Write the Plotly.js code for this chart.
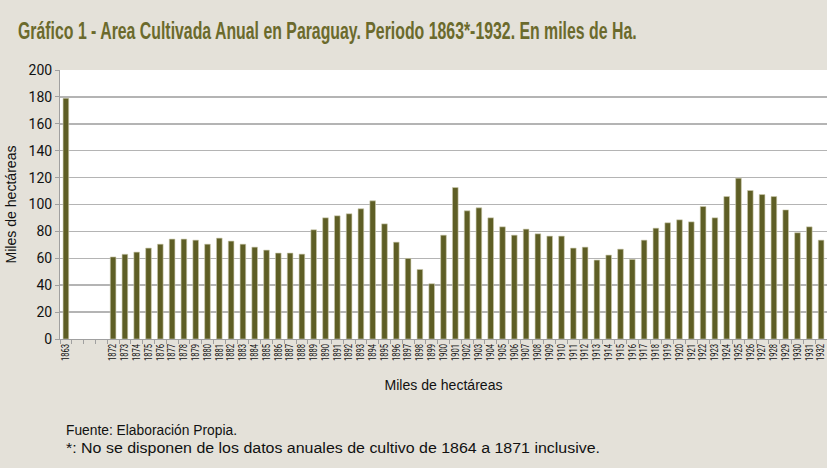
<!DOCTYPE html>
<html>
<head>
<meta charset="utf-8">
<script src="https://cdn.plot.ly/plotly-3.0.1.min.js"></script>
<style>
html,body{margin:0;padding:0;background:#e4e1d9;}
#chart{width:827px;height:468px;}
</style>
</head>
<body>
<div id="chart"></div>
<script>
// Categories: 1863, three unlabeled gap slots, then 1872..1932
var years = ["1863", " ", "  ", "   ",
  "1872","1873","1874","1875","1876","1877","1878","1879","1880","1881",
  "1882","1883","1884","1885","1886","1887","1888","1889","1890","1891",
  "1892","1893","1894","1895","1896","1897","1898","1899","1900","1901",
  "1902","1903","1904","1905","1906","1907","1908","1909","1910","1911",
  "1912","1913","1914","1915","1916","1917","1918","1919","1920","1921",
  "1922","1923","1924","1925","1926","1927","1928","1929","1930","1931","1932"];

var area = [179, null, null, null,
  61, 63, 64.6, 67.6, 70.5, 74.3, 74.3, 73.5, 70.5, 75,
  72.8, 70.5, 68.3, 66.1, 63.9, 63.9, 63.1, 81.2, 90.1, 91.6,
  93.1, 96.8, 102.7, 85.6, 72, 59.9, 51.7, 41.1, 77.2, 112.6,
  95.3, 97.5, 90.1, 83.4, 77.2, 81.7, 78.2, 76.5, 76.5, 67.6,
  68.3, 58.7, 62.4, 66.8, 59.2, 73.5, 82.4, 86.4, 88.6, 87.1,
  98.5, 90.1, 105.9, 119.6, 110.4, 107.4, 105.9, 96, 79, 83.4, 73.5];

var yTicks = [0, 20, 40, 60, 80, 100, 120, 140, 160, 180, 200];

var titleText = "Gráfico 1 - Area Cultivada Anual en Paraguay. Periodo 1863*-1932. En miles de Ha.";
var axisTitle = "Miles de hectáreas";
var note1 = "Fuente: Elaboración Propia.";
var note2 = "*: No se disponen de los datos anuales de cultivo de 1864 a 1871 inclusive.";

var sans = "'Liberation Sans', Arial, sans-serif";
var rob = "Roboto, 'Liberation Sans', sans-serif";

var trace = {
  type: "bar",
  x: years,
  y: area,
  marker: {color: "#5e5e25", line: {color: "#cfcdb0", width: 0.6}},
  width: 0.48,
  hoverinfo: "x+y"
};

var layout = {
  width: 827, height: 468,
  paper_bgcolor: "#e4e1d9",
  plot_bgcolor: "#ffffff",
  margin: {l: 60, r: 0, t: 70, b: 129, pad: 0},
  showlegend: false,
  title: {
    text: titleText,
    x: 0.022, xanchor: "left",
    y: 0.935, yanchor: "middle",
    font: {family: sans, size: 24, weight: "bold", color: "#6b6a2c"}
  },
  xaxis: {
    type: "category",
    categoryorder: "array",
    categoryarray: years,
    tickmode: "linear",
    dtick: 1,
    tickangle: -90,
    ticks: "outside",
    tickson: "boundaries",
    ticklen: 4,
    tickcolor: "#a0a0a0",
    tickfont: {family: rob, size: 10, color: "#111"},
    showline: true,
    linecolor: "#a0a0a0",
    showgrid: false,
    fixedrange: true,
    title: {text: axisTitle, standoff: 14, font: {family: sans, size: 14, color: "#111"}}
  },
  yaxis: {
    range: [0, 200],
    tickvals: yTicks,
    ticks: "outside",
    ticklen: 4,
    tickcolor: "#a0a0a0",
    tickfont: {family: rob, size: 14, color: "#111"},
    showline: true,
    linecolor: "#a0a0a0",
    gridcolor: "#b4b4b4",
    gridwidth: 1.5,
    zeroline: false,
    title: {text: axisTitle, standoff: 8, font: {family: sans, size: 14, color: "#111"}}
  },
  annotations: [
    {text: note1, xref: "paper", yref: "paper", x: 0, y: -0.338, xanchor: "left", yanchor: "middle",
     xshift: 6, showarrow: false, font: {family: sans, size: 14, color: "#111"}},
    {text: note2, xref: "paper", yref: "paper", x: 0, y: -0.405, xanchor: "left", yanchor: "middle",
     xshift: 6, showarrow: false, font: {family: sans, size: 14, color: "#111"}}
  ]
};

function squeeze(el, len) {
  if (!el) return;
  el.setAttribute("textLength", len);
  el.setAttribute("lengthAdjust", "spacingAndGlyphs");
}

function squeezeLeft(el, len, left) {
  if (!el) return;
  squeeze(el, len);
  var r = el.getBoundingClientRect();
  var dx = left - r.left;
  var old = el.getAttribute("transform") || "";
  el.setAttribute("transform", "translate(" + dx + ",0) " + old);
}

// Horizontally compress a text with a transform so its box is exact
function scaleLeft(el, len, left) {
  if (!el) return;
  var r = el.getBoundingClientRect();
  var sx = len / r.width;
  var old = el.getAttribute("transform") || "";
  el.setAttribute("transform", "translate(" + left + ",0) scale(" + sx + ",1) translate(" + (-r.left) + ",0) " + old);
}

Plotly.newPlot("chart", [trace], layout, {displayModeBar: false, staticPlot: true}).then(function (gd) {
  scaleLeft(gd.querySelector(".gtitle"), 619, 18);
  var ann = gd.querySelectorAll(".annotation-text");
  squeezeLeft(ann[0], 171, 66);
  squeezeLeft(ann[1], 534, 66);
  gd.querySelectorAll(".xtick text").forEach(function (t) {
    if (t.textContent.trim()) squeeze(t, 17);
  });
  gd.querySelectorAll(".g-xtitle text, .g-ytitle text").forEach(function (t) {
    squeeze(t, 118);
  });
});
</script>
</body>
</html>
